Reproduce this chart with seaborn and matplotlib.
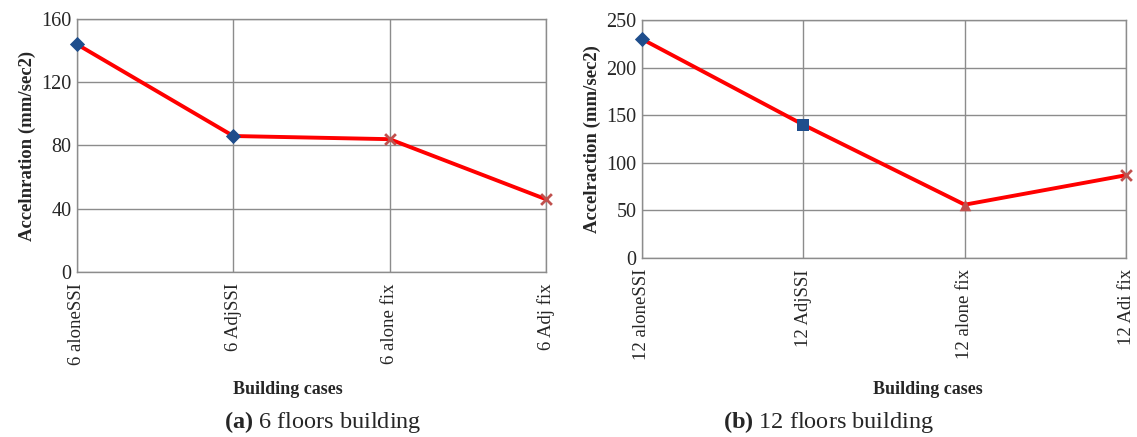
import matplotlib
matplotlib.use("Agg")
import matplotlib.pyplot as plt
import seaborn as sns
import pandas as pd

# Data
cases_6 = ["6 aloneSSI", "6 AdjSSI", "6 alone fix", "6 Adj fix"]
accel_6 = [144, 86, 84, 46]
markers_6 = ["D", "D", "x", "x"]

cases_12 = ["12 aloneSSI", "12 AdjSSI", "12 alone fix", "12 Adi fix"]
accel_12 = [230, 140, 56, 87]
markers_12 = ["D", "s", "^", "x"]

sns.set_theme(style="whitegrid")
plt.rcParams["font.family"] = ["Liberation Serif", "DejaVu Serif"]
plt.rcParams["mathtext.fontset"] = "custom"
plt.rcParams["mathtext.rm"] = "Liberation Serif"
plt.rcParams["mathtext.bf"] = "Liberation Serif:bold"

fig = plt.figure(figsize=(11.37, 4.37), dpi=100)
ax1 = fig.add_axes([0.0677, 0.3776, 0.4125, 0.5789])
ax2 = fig.add_axes([0.5646, 0.4096, 0.4258, 0.5446])

marker_colors = {"D": "#1F4E8C", "s": "#1F4E8C", "^": "#C0504D", "x": "#C0504D"}
marker_sizes = {"D": 60, "s": 80, "^": 70, "x": 60}


def draw(ax, cases, values, marks, yticks, ylabel):
    df = pd.DataFrame({"case": cases, "value": values, "mark": marks,
                       "pos": range(len(cases))})
    sns.lineplot(data=df, x="pos", y="value", ax=ax, color="#FF0000",
                 linewidth=2.8, zorder=3)
    for m in dict.fromkeys(marks):
        sub = df[df["mark"] == m]
        sns.scatterplot(data=sub, x="pos", y="value", ax=ax, marker=m,
                        color=marker_colors[m], s=marker_sizes[m],
                        linewidth=2 if m == "x" else 0, edgecolor=None,
                        zorder=4, clip_on=False)
    ax.set_xlim(0, len(cases) - 1)
    ax.set_ylim(yticks[0], yticks[-1])
    ax.set_yticks(yticks)
    ax.set_xticks(range(len(cases)))
    ax.set_xticklabels(cases, rotation=90, fontsize=13.5, va="top")
    ax.tick_params(axis="y", labelsize=14.5, pad=4, length=0)
    ax.tick_params(axis="x", pad=8, length=0)
    ax.grid(True, color="#8C8C8C", linewidth=1)
    for s in ax.spines.values():
        s.set_color("#8C8C8C")
        s.set_linewidth(1)
    ax.set_ylabel(ylabel, fontsize=13.5, fontweight="bold", labelpad=4)
    ax.set_xlabel("Building cases", fontsize=13, fontweight="bold",
                  fontstretch="condensed")


draw(ax1, cases_6, accel_6, markers_6, [0, 40, 80, 120, 160],
     "Accelnration (mm/sec2)")
draw(ax2, cases_12, accel_12, markers_12, [0, 50, 100, 150, 200, 250],
     "Accelraction (mm/sec2)")
ax1.xaxis.set_label_coords(0.45, -0.43)
ax2.xaxis.set_label_coords(0.59, -0.518)

fig.text(0.284, 0.02, r"$\mathbf{(a)}$ 6 floors building", ha="center",
         fontsize=17.5)
fig.text(0.729, 0.02, r"$\mathbf{(b)}$ 12 floors building", ha="center",
         fontsize=17.5)

fig.savefig("out.png", dpi=100)
